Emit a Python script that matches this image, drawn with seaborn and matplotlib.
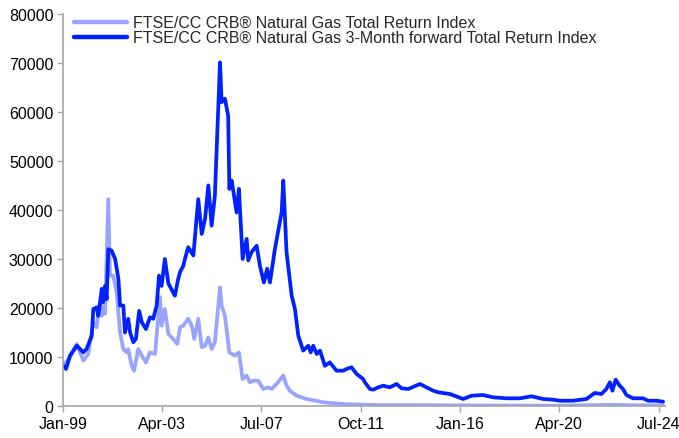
import seaborn as sns
import numpy as np
import pandas as pd
import matplotlib.pyplot as plt
import matplotlib.dates as mdates
from matplotlib.ticker import MultipleLocator

# decimal years and index levels
fwd_years = [
    1999.01, 1999.13, 1999.30, 1999.59, 1999.73, 1999.87, 2000.01, 2000.23, 2000.30, 2000.44,
    2000.51, 2000.66, 2000.72, 2000.80, 2000.87, 2000.94, 2001.08, 2001.23, 2001.37, 2001.44,
    2001.58, 2001.65, 2001.79, 2001.87, 2002.01, 2002.12, 2002.26, 2002.37, 2002.55, 2002.72,
    2002.86, 2003.01, 2003.11, 2003.22, 2003.36, 2003.51, 2003.79, 2003.93, 2004.01, 2004.15,
    2004.22, 2004.36, 2004.58, 2004.79, 2004.94, 2005.08, 2005.22, 2005.36, 2005.50, 2005.72,
    2005.79, 2005.93, 2006.07, 2006.12, 2006.22, 2006.43, 2006.53, 2006.69, 2006.86, 2006.93,
    2007.07, 2007.29, 2007.43, 2007.60, 2007.74, 2007.86, 2008.07, 2008.36, 2008.43, 2008.57,
    2008.79, 2008.93, 2009.07, 2009.28, 2009.50, 2009.60, 2009.71, 2009.86, 2010.00, 2010.21,
    2010.42, 2010.71, 2010.99, 2011.14, 2011.35, 2011.57, 2011.85, 2011.92, 2012.14, 2012.28,
    2012.49, 2012.71, 2012.99, 2013.28, 2013.49, 2013.78, 2014.28, 2014.56, 2014.85, 2015.06,
    2015.56, 2016.13, 2016.49, 2016.98, 2017.41, 2017.99, 2018.56, 2019.06, 2019.55, 2019.98,
    2020.27, 2020.84, 2021.41, 2021.76, 2022.05, 2022.26, 2022.41, 2022.52, 2022.66, 2022.83,
    2022.97, 2023.12, 2023.40, 2023.83, 2024.05, 2024.40, 2024.69,
]
fwd_values = [
    8200, 7550, 10270, 12300, 11630, 10950, 11630, 14350, 19800, 20100,
    18400, 23900, 21200, 24500, 21800, 32000, 31700, 30000, 25900, 20500,
    20500, 15000, 17800, 15000, 13000, 13700, 19400, 17100, 15700, 18100,
    17800, 20500, 26600, 24500, 30000, 25000, 22500, 25900, 27300, 28600,
    30000, 32400, 30700, 42200, 35100, 38200, 45000, 36800, 42900, 70100,
    62000, 62700, 59200, 44300, 46000, 39500, 44300, 30000, 34100, 29700,
    31400, 32700, 28600, 25200, 28000, 25200, 32000, 39500, 46000, 31400,
    22500, 19800, 14350, 11300, 12300, 10950, 12300, 10600, 11300, 8200,
    8900, 7200, 7200, 7550, 7900, 6530, 5500, 4840, 3470, 3330,
    3800, 4140, 3800, 4490, 3610, 3470, 4490, 3800, 3120, 2800,
    2450, 1430, 2100, 2240, 1770, 1570, 1570, 1980, 1430, 1290,
    1080, 1080, 1430, 2650, 2450, 3470, 4840, 3120, 5370, 4140,
    3470, 2240, 1570, 1570, 1080, 1080, 880,
]

spot_years = [
    1999.01, 1999.30, 1999.59, 1999.87, 2000.08, 2000.30, 2000.44, 2000.55, 2000.66, 2000.72,
    2000.80, 2000.94, 2001.01, 2001.15, 2001.30, 2001.44, 2001.58, 2001.73, 2001.79, 2001.94,
    2002.04, 2002.22, 2002.37, 2002.55, 2002.72, 2002.94, 2003.15, 2003.22, 2003.36, 2003.51,
    2003.79, 2003.89, 2004.01, 2004.15, 2004.36, 2004.51, 2004.62, 2004.79, 2004.94, 2005.08,
    2005.22, 2005.36, 2005.50, 2005.72, 2005.79, 2005.93, 2006.12, 2006.36, 2006.53, 2006.69,
    2006.86, 2007.00, 2007.14, 2007.36, 2007.57, 2007.78, 2007.93, 2008.14, 2008.43, 2008.57,
    2008.71, 2009.00, 2009.43, 2010.14, 2011.00, 2012.42, 2014.00, 2016.00, 2018.00, 2020.30,
    2022.60, 2023.30, 2024.69,
]
spot_values = [
    8200, 10000, 12650, 9250, 10600, 17100, 16050, 20500, 18400, 23900,
    18800, 42200, 26600, 26600, 23200, 15000, 11630, 10950, 11600, 8200,
    7200, 11630, 10270, 8900, 10950, 10600, 22200, 16400, 19800, 14700,
    13300, 12650, 16050, 16400, 17800, 16400, 13700, 17800, 12000, 12300,
    14000, 11630, 13000, 24200, 20500, 18400, 10950, 10270, 10950, 5500,
    6200, 4840, 5160, 5160, 3470, 3800, 3470, 4490, 6200, 4140,
    3120, 2100, 1430, 750, 400, 200, 200, 120, 90, 60,
    250, 150, 120,
]

series_names = [
    "FTSE/CC CRB\u00ae Natural Gas Total Return Index",
    "FTSE/CC CRB\u00ae Natural Gas 3-Month forward Total Return Index",
]
tick_dates = ["1999-01-01", "2003-04-01", "2007-07-01", "2011-10-01",
              "2016-01-01", "2020-04-01", "2024-07-01"]


def to_dates(years):
    yrs = np.array(years)
    base = pd.to_datetime(np.floor(yrs).astype(int).astype(str) + "-01-01")
    return base + pd.to_timedelta((yrs - np.floor(yrs)) * 365.25, unit="D")


df = pd.concat([
    pd.DataFrame({"date": to_dates(spot_years), "value": spot_values, "series": series_names[0]}),
    pd.DataFrame({"date": to_dates(fwd_years), "value": fwd_values, "series": series_names[1]}),
])

sns.set_style("white")
plt.rcParams["font.family"] = ["Liberation Sans", "DejaVu Sans"]

fig = plt.figure(figsize=(6.79, 4.39), dpi=100)
ax = fig.add_axes([0.0928, 0.0729, 0.8862, 0.8931])

sns.lineplot(data=df, x="date", y="value", hue="series", hue_order=series_names,
             palette=["#99a4ff", "#0022ff"], linewidth=2.7, ax=ax)

ax.set_xlim(pd.Timestamp("1999-01-01"), pd.Timestamp("2024-10-05"))
ax.set_ylim(0, 80000)
ax.yaxis.set_major_locator(MultipleLocator(10000))
ax.set_xticks(pd.to_datetime(tick_dates))
ax.xaxis.set_major_formatter(mdates.DateFormatter("%b-%y"))
ax.set_xlabel("")
ax.set_ylabel("")

for side in ["top", "right"]:
    ax.spines[side].set_visible(False)
for side in ["left", "bottom"]:
    ax.spines[side].set_color("#a6a6a6")
    ax.spines[side].set_linewidth(1.2)
ax.tick_params(axis="both", which="major", direction="out", length=4, width=1.0,
               color="#a6a6a6", labelsize=11.5, labelcolor="black", pad=3,
               left=True, bottom=True)

leg = ax.legend(loc="upper left", bbox_to_anchor=(0.0, 1.025), frameon=False, fontsize=11.5,
                handlelength=3.3, handletextpad=0.4, labelspacing=0.0, borderaxespad=0.3)
for line in leg.get_lines():
    line.set_linewidth(3.2)

fig.savefig("out.png", dpi=100)
